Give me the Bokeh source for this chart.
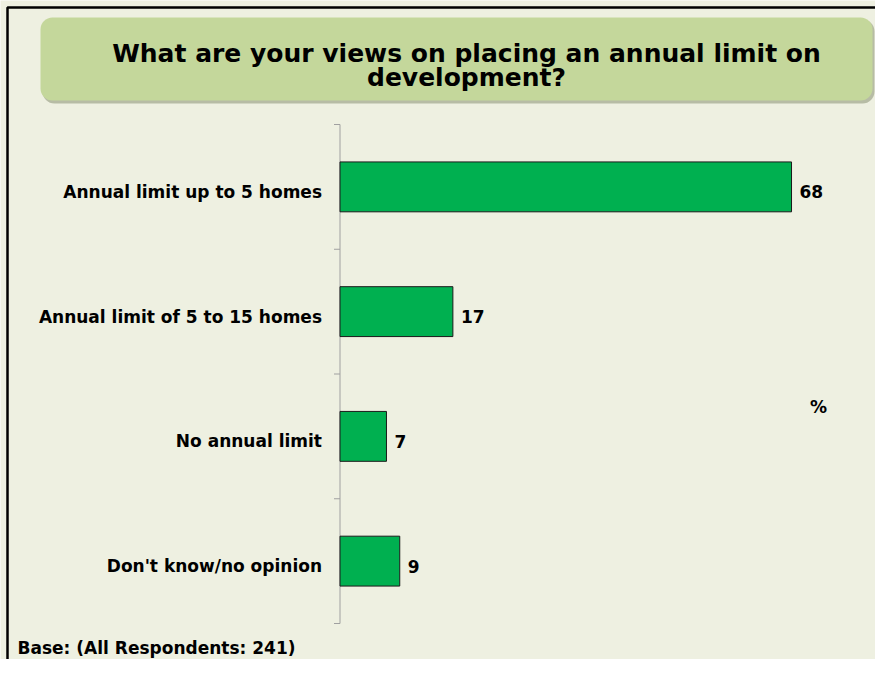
from bokeh.plotting import figure
from bokeh.models import ColumnDataSource, Label, BoxAnnotation, Range1d
from bokeh.core.properties import value
from bokeh.embed import file_html
from bokeh.resources import INLINE

categories = ["Annual limit up to 5 homes", "Annual limit of 5 to 15 homes",
              "No annual limit", "Don't know/no opinion"]
values = [68, 17, 7, 9]
title_lines = ["What are your views on placing an annual limit on", "development?"]
base_note = "Base: (All Respondents: 241)"
unit_label = "%"

FONT = "DejaVu Sans"
BG = "#EEF0E1"
AXIS_COLOR = "#A0A0A0"
n = len(categories)
ypos = [n - i - 0.5 for i in range(n)]
bounds = list(range(n + 1))

W, H = 875, 659
# pixel layout of the value scale: x=0 at px 339.5, 6.64 px per unit; band 124.75 px, y=0 at px 623
PXX, X0PX = 6.64, 339.5
PXY, Y0PX = 124.75, 623.0


def px2x(px):
    return (px - X0PX) / PXX


def px2y(py):
    return (Y0PX - py) / PXY


p = figure(width=W, height=H, output_backend="svg", toolbar_location=None,
           x_range=Range1d(px2x(0), px2x(W)), y_range=Range1d(px2y(H), px2y(0)),
           x_axis_location=None, y_axis_location=None,
           min_border=0, min_border_left=0, min_border_right=0, min_border_top=0, min_border_bottom=0,
           background_fill_color=BG, border_fill_color=BG, outline_line_color=None)
p.grid.visible = False

src = ColumnDataSource(dict(y=ypos, v=values, lab=[str(v) for v in values], cat=categories))
tsrc = ColumnDataSource(dict(y=bounds))

TXT = dict(text_font=value(FONT), text_font_style="bold", text_font_size="17px", text_color="black")

# category axis (line, boundary ticks, labels)
p.segment(x0=0, y0=0, x1=0, y1=n, line_color=AXIS_COLOR, line_width=1)
p.segment(x0=0, y0="y", x1=-6 / PXX, y1="y", source=tsrc, line_color=AXIS_COLOR, line_width=1)
p.text(x=0, y="y", text="cat", source=src, x_offset=-18, y_offset=5, text_align="right",
       text_baseline="middle", **TXT)

# bars and value labels
p.hbar(y="y", right="v", left=0, height=0.4, source=src,
       fill_color="#00B050", line_color="#1a1a1a", line_width=1)
p.text(x="v", y="y", text="lab", source=src, x_offset=8, y_offset=5, text_align="left",
       text_baseline="middle", **TXT)

p.add_layout(Label(x=px2x(818), y=px2y(406), text=unit_label, text_align="center",
                   text_baseline="middle", text_font=FONT, text_font_style="bold",
                   text_font_size="17px", text_color="black"))

# outer border (left/top)
p.add_layout(BoxAnnotation(left=px2x(7), right=px2x(W + 20), top=px2y(7), bottom=px2y(H + 20),
                           fill_alpha=0, line_color="black", line_alpha=1, line_width=2.5))

# title box shadow and box
p.add_layout(BoxAnnotation(left=px2x(42), right=px2x(874), top=px2y(19), bottom=px2y(103),
                           fill_color="#8A9274", fill_alpha=0.55, line_alpha=0, border_radius=12))
p.add_layout(BoxAnnotation(left=px2x(40), right=px2x(872), top=px2y(17), bottom=px2y(100),
                           fill_color="#C4D79B", fill_alpha=1, line_alpha=0, border_radius=12))
for txt, yc in zip(title_lines, [53, 77]):
    p.add_layout(Label(x=px2x(466), y=px2y(yc), text=txt,
                       text_align="center", text_baseline="middle",
                       text_font=FONT, text_font_style="bold", text_font_size="25px", text_color="black"))

p.add_layout(Label(x=px2x(17), y=px2y(647), text=base_note,
                   text_align="left", text_baseline="middle",
                   text_font=FONT, text_font_style="bold", text_font_size="17px", text_color="black"))

open("out.html", "w").write(file_html(p, INLINE))
